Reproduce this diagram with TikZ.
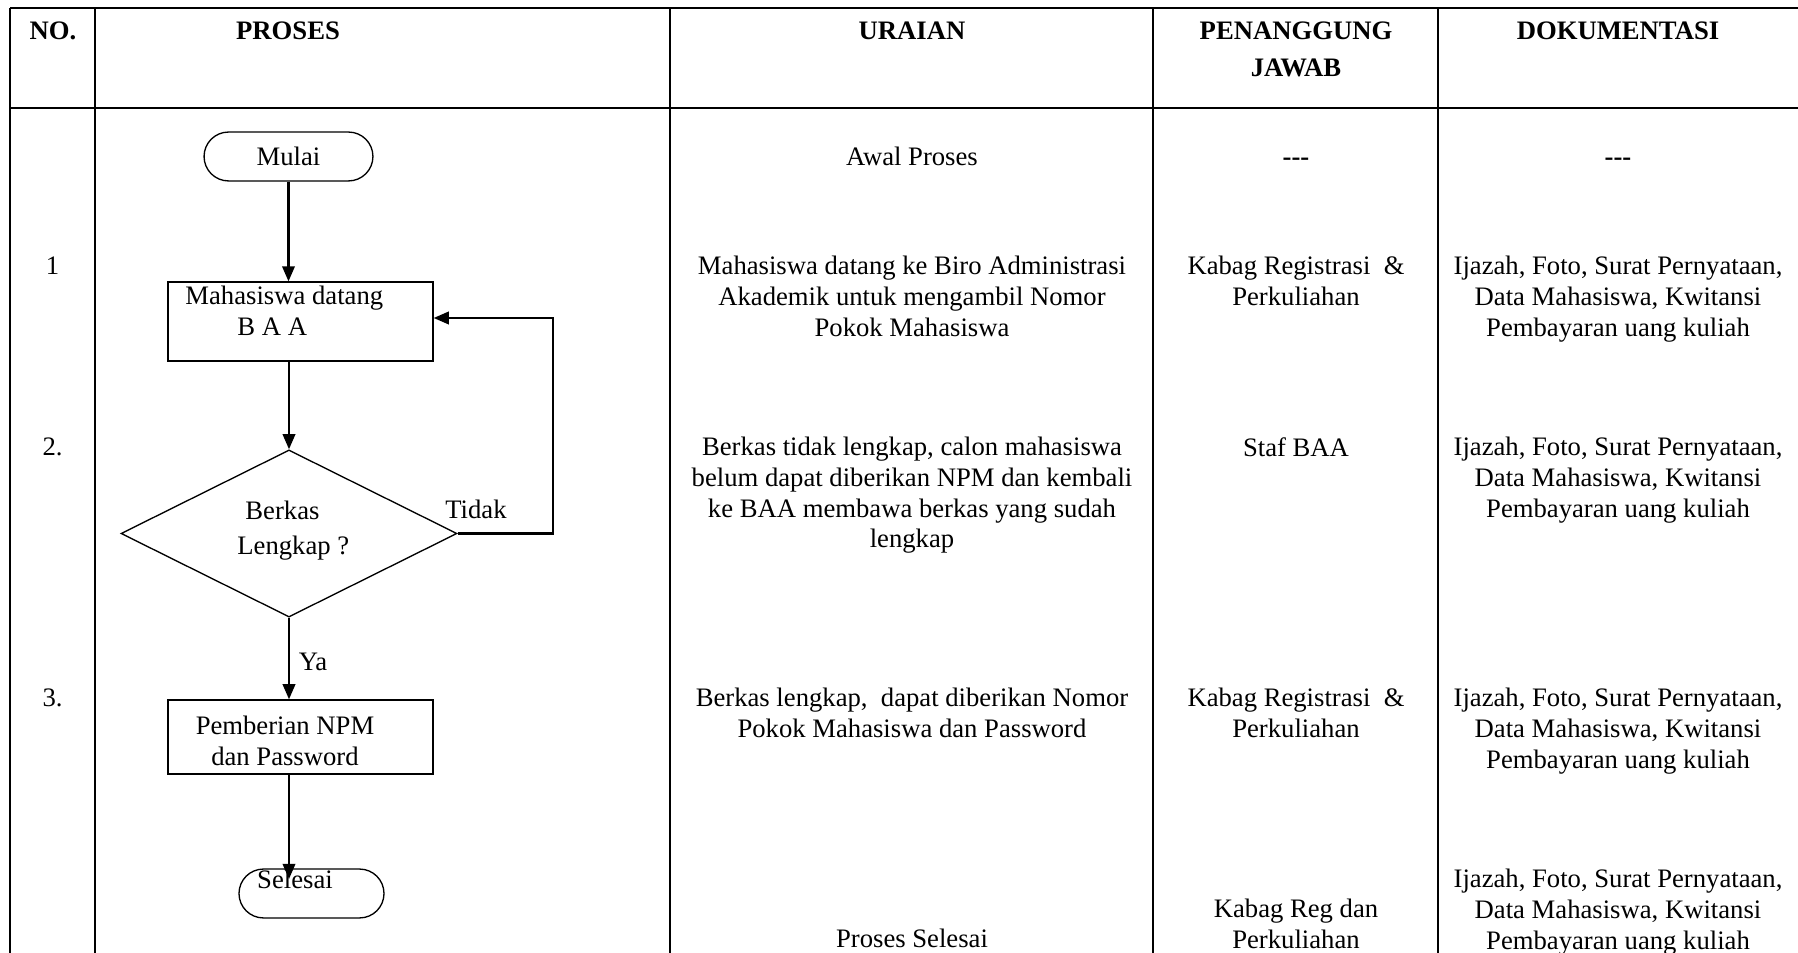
\documentclass[tikz,border=0pt]{standalone}
\usepackage{fontspec}
\setmainfont{Liberation Serif}
\usetikzlibrary{shapes.geometric,shapes.misc,arrows.meta}

\begin{document}
\begin{tikzpicture}[
    x=0.45pt, y=-0.45pt,
    every node/.style={font=\fontsize{12pt}{13.8pt}\selectfont},
    txt/.style={anchor=north, align=center, inner sep=0pt},
    head/.style={txt, font=\fontsize{12pt}{17pt}\selectfont\bfseries},
    kosong/.style={txt, anchor=base, font=\fontsize{12pt}{13.8pt}\selectfont\bfseries},
    terminal/.style={rounded rectangle, draw, line width=0.6pt, minimum height=22pt, inner sep=0pt},
    process/.style={rectangle, draw, line width=0.6pt, minimum width=119.25pt, inner sep=0pt},
    decision/.style={diamond, draw, line width=0.6pt, minimum width=151.2pt, minimum height=75.2pt, inner sep=0pt},
    arrow/.style={-{Triangle[length=6.8pt,width=5.6pt]}, line width=1pt},
    tableline/.style={line width=1.2pt}
]
    \useasboundingbox (0,0) rectangle (1798,953);

    % Tabel
    \draw[tableline] (10,8) -- (1798,8);
    \draw[tableline] (10,108) -- (1798,108);
    \foreach \x in {10,95,670,1153,1438}
        \draw[tableline] (\x,8) -- (\x,953);

    % Kepala tabel
    \node[head] (hno) at (53,21) {NO.};
    \node[head] (hproses) at (288,21) {PROSES};
    \node[head] (huraian) at (912,21) {URAIAN};
    \node[head] (hpj) at (1296,21) {PENANGGUNG\\JAWAB};
    \node[head] (hdok) at (1618,21) {DOKUMENTASI};

    % Nomor
    \node[txt] (no1) at (52.5,256) {1};
    \node[txt] (no2) at (52.5,437) {2.};
    \node[txt] (no3) at (52.5,688) {3.};

    % Proses
    \node[terminal, minimum width=76pt] (mulai) at (288.5,156.5) {Mulai};
    \node[process, minimum height=35.5pt] (datang) at (300.5,321.5) {};
    \node[txt, anchor=north west, align=left] (datangtxt) at (185,286) {Mahasiswa datang\\\hspace*{23.4pt}B A A};
    \node[decision] (lengkap) at (289,533.5) {};
    \node[txt, anchor=north west, align=left, font=\fontsize{12pt}{15.75pt}\selectfont] (lengkaptxt) at (237,501) {\hspace*{3.6pt}Berkas\\Lengkap ?};
    \node[txt] (tidak) at (476,500) {Tidak};
    \node[process, minimum height=33.3pt] (npm) at (300.5,737) {};
    \node[txt] (npmtxt) at (285,716) {Pemberian NPM\\dan Password};
    \node[txt] (ya) at (313,653) {Ya};
    \node[terminal, minimum width=65.25pt] (selesai) at (311.5,893.5) {};
    \node[txt] (selesaitxt) at (295,870) {Selesai};

    \coordinate (balik) at (553,318);
    \coordinate (akhir) at (289,879);

    \draw[arrow] (mulai.south) -- (mulai.south |- datang.north);
    \draw[arrow] (lengkap.north |- datang.south) -- (lengkap.north);
    \draw[arrow] (lengkap.east) -| (balik) -- (balik -| datang.east);
    \draw[arrow] (lengkap.south) -- (lengkap.south |- npm.north);
    \draw[arrow] (lengkap.south |- npm.south) -- (akhir);

    % Uraian
    \node[txt] (u0) at (912,147) {Awal Proses};
    \node[txt] (u1) at (912,256) {Mahasiswa datang ke Biro Administrasi\\Akademik untuk mengambil Nomor\\Pokok Mahasiswa};
    \node[txt] (u2) at (912,437) {Berkas tidak lengkap, calon mahasiswa\\belum dapat diberikan NPM dan kembali\\ke BAA membawa berkas yang sudah\\lengkap};
    \node[txt] (u3) at (912,688) {Berkas lengkap,\ \ dapat diberikan Nomor\\Pokok Mahasiswa dan Password};
    \node[txt] (u4) at (912,929) {Proses Selesai};

    % Penanggung jawab
    \node[kosong] (p0) at (1296,166) {-{}-{}-};
    \node[txt] (p1) at (1296,256) {Kabag Registrasi\ \ \&\\Perkuliahan};
    \node[txt] (p2) at (1296,437) {Staf BAA};
    \node[txt] (p3) at (1296,688) {Kabag Registrasi\ \ \&\\Perkuliahan};
    \node[txt] (p4) at (1296,899) {Kabag Reg dan\\Perkuliahan};

    % Dokumentasi
    \node[kosong] (d0) at (1618,166) {-{}-{}-};
    \node[txt] (d1) at (1618,256) {Ijazah, Foto, Surat Pernyataan,\\Data Mahasiswa, Kwitansi\\Pembayaran uang kuliah};
    \node[txt] (d2) at (1618,437) {Ijazah, Foto, Surat Pernyataan,\\Data Mahasiswa, Kwitansi\\Pembayaran uang kuliah};
    \node[txt] (d3) at (1618,688) {Ijazah, Foto, Surat Pernyataan,\\Data Mahasiswa, Kwitansi\\Pembayaran uang kuliah};
    \node[txt] (d4) at (1618,869) {Ijazah, Foto, Surat Pernyataan,\\Data Mahasiswa, Kwitansi\\Pembayaran uang kuliah};
\end{tikzpicture}
\end{document}
